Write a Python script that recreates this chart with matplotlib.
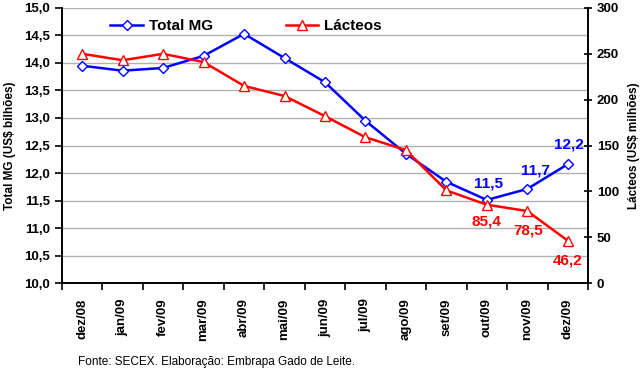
import numpy as np
import matplotlib.pyplot as plt
from matplotlib.ticker import FixedLocator, FuncFormatter

# data
meses = ['dez/08', 'jan/09', 'fev/09', 'mar/09', 'abr/09', 'mai/09', 'jun/09',
         'jul/09', 'ago/09', 'set/09', 'out/09', 'nov/09', 'dez/09']
total_mg = [13.95, 13.86, 13.91, 14.13, 14.53, 14.09, 13.65,
            12.95, 12.35, 11.84, 11.51, 11.71, 12.16]
lacteos = [250, 243, 250, 241, 215, 204, 182,
           159, 145, 101, 85.4, 78.5, 46.2]

plt.rcParams['font.family'] = ['Liberation Sans', 'DejaVu Sans']

fig = plt.figure(figsize=(6.44, 3.75), dpi=100)
ax = fig.add_axes([0.0963, 0.2453, 0.8167, 0.7334])
ax2 = ax.twinx()

x = np.arange(len(meses))

# grid on left axis
ax.set_ylim(10, 15)
ax.set_yticks(np.arange(10, 15.01, 0.5))
ax.yaxis.set_major_formatter(FuncFormatter(lambda v, p: f'{v:.1f}'.replace('.', ',')))
ax.grid(axis='y', color='#b0b0b0', lw=1)
ax.set_axisbelow(True)

ax2.set_ylim(0, 300)
ax2.set_yticks(np.arange(0, 301, 50))

l1, = ax.plot(x, total_mg, color='#0000ff', lw=1.8, marker='D', ms=5,
              mfc='white', mec='#0000ff', mew=1, zorder=4)
l2, = ax2.plot(x, lacteos, color='#ff0000', lw=1.8, marker='^', ms=7,
               mfc='white', mec='#ff0000', mew=1, zorder=3)

ax.set_xlim(-0.5, len(meses) - 0.5)
ax.set_xticks(x)
ax.set_xticklabels(meses, rotation=90, fontweight='bold', fontsize=9.5)
ax.xaxis.set_minor_locator(FixedLocator(np.arange(-0.5, len(meses), 1)))
ax.tick_params(axis='x', which='major', length=0, pad=11)
ax.tick_params(axis='x', which='minor', length=5, width=1.2, direction='out')
ax.tick_params(axis='y', length=5, width=1.2, direction='out', labelsize=9.5)
ax2.tick_params(axis='y', length=6, width=1.2, direction='inout', labelsize=9.5)
for lab in ax.get_yticklabels() + ax2.get_yticklabels():
    lab.set_fontweight('bold')

for a in (ax, ax2):
    a.spines['top'].set_visible(False)
    for s in ('left', 'right', 'bottom'):
        a.spines[s].set_linewidth(1.2)

ax.set_ylabel('Total MG (US$ bilhões)', fontweight='bold', fontsize=8.5, labelpad=6)
ax2.set_ylabel('Lácteos (US$ milhões)', fontweight='bold', fontsize=8.5, labelpad=6)

# data labels for the last three months
fmt = lambda v: f'{v:.1f}'.replace('.', ',')
blue_off = {10: (1, 7), 11: (6, 8), 12: (1, 9)}
for i, (dx, dy) in blue_off.items():
    ax.annotate(fmt(total_mg[i]), (x[i], total_mg[i]), xytext=(dx, dy),
                textcoords='offset points', ha='center', va='bottom',
                color='#0000ff', fontweight='bold', fontsize=11)
red_off = {10: (0, -7), 11: (1, -9), 12: (0, -9)}
for i, (dx, dy) in red_off.items():
    ax2.annotate(fmt(lacteos[i]), (x[i], lacteos[i]), xytext=(dx, dy),
                 textcoords='offset points', ha='center', va='top',
                 color='#ff0000', fontweight='bold', fontsize=11)

ax.legend([l1, l2], ['Total MG', 'Lácteos'], loc='upper left',
          bbox_to_anchor=(0.066, 1.009), ncol=2, frameon=False,
          prop={'weight': 'bold', 'size': 11}, handlelength=2.1,
          columnspacing=4.8, handletextpad=0.4)

fig.text(0.121, 0.027, 'Fonte: SECEX. Elaboração: Embrapa Gado de Leite.',
         fontsize=8.5)

fig.savefig('out.png', dpi=100)
